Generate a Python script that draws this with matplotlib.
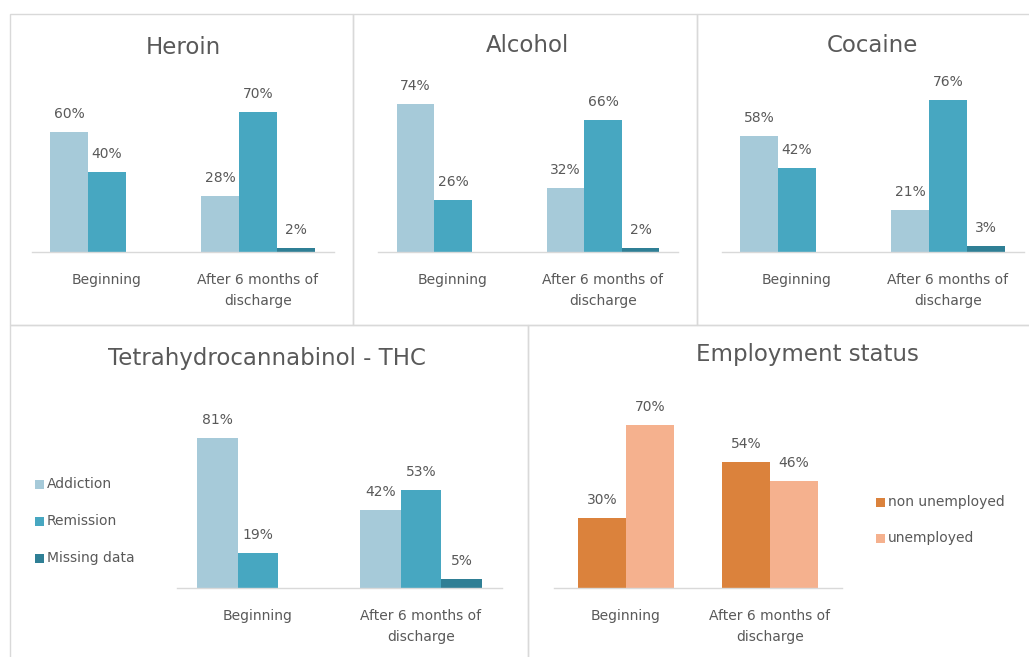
import matplotlib
matplotlib.use("Agg")
import matplotlib.pyplot as plt
from matplotlib.patches import Rectangle
import numpy as np

plt.rcParams['font.family'] = ['DejaVu Sans']

categories = ["Beginning", "After 6 months of\ndischarge"]
drug_series = ["Addiction", "Remission", "Missing data"]

heroin_addiction = [60, 28]
heroin_remission = [40, 70]
heroin_missing = [0, 2]

alcohol_addiction = [74, 32]
alcohol_remission = [26, 66]
alcohol_missing = [0, 2]

cocaine_addiction = [58, 21]
cocaine_remission = [42, 76]
cocaine_missing = [0, 3]

thc_addiction = [81, 42]
thc_remission = [19, 53]
thc_missing = [0, 5]

employment_series = ["non unemployed", "unemployed"]
employment_non_unemployed = [30, 54]
employment_unemployed = [70, 46]

W, H = 1029, 657
fig = plt.figure(figsize=(W / 100, H / 100), dpi=100)
fig.patch.set_facecolor("white")

TEXT = "#595959"
BLUE_COLORS = ["#A6CAD9", "#47A7C1", "#2F7F95"]
ORANGE_COLORS = ["#DB823C", "#F5B18E"]


def px_axes(left, top, width, height):
    return fig.add_axes([left / W, 1 - (top + height) / H, width / W, height / H])


# panel borders
panels = [(10, 14, 343, 311), (353, 14, 344, 311), (697, 14, 340, 311),
          (10, 325, 518, 340), (528, 325, 510, 340)]
for (x, y, w, h) in panels:
    fig.add_artist(Rectangle((x / W, 1 - (y + h) / H), w / W, h / H,
                             transform=fig.transFigure, fill=False,
                             edgecolor="#D9D9D9", linewidth=1.0))


def bar_panel(ax, series_values, colors, width, ymax):
    n = len(series_values)
    x = np.arange(len(categories))
    for i, (vals, c) in enumerate(zip(series_values, colors)):
        off = (i - (n - 1) / 2) * width
        for xi, v in zip(x, vals):
            if v == 0:
                continue
            ax.bar(xi + off, v, width=width, color=c, linewidth=0)
            ax.annotate(f"{v}%", (xi + off, v), xytext=(0, 8),
                        textcoords="offset points", ha="center", va="bottom",
                        fontsize=10, color=TEXT)
    ax.set_xlim(-0.5, 1.5)
    ax.set_ylim(0, ymax)
    ax.set_xticks(x)
    ax.set_xticklabels(categories, fontsize=10, color=TEXT, linespacing=1.65)
    ax.tick_params(axis="x", length=0, pad=15)
    ax.set_yticks([])
    for s in ["top", "left", "right"]:
        ax.spines[s].set_visible(False)
    ax.spines["bottom"].set_color("#D9D9D9")
    ax.spines["bottom"].set_linewidth(1.0)
    ax.patch.set_alpha(0)


# top row
ax1 = px_axes(31.5, 52, 302, 200)
bar_panel(ax1, [heroin_addiction, heroin_remission, heroin_missing], BLUE_COLORS, 0.25, 100)
ax2 = px_axes(378, 52, 300, 200)
bar_panel(ax2, [alcohol_addiction, alcohol_remission, alcohol_missing], BLUE_COLORS, 0.25, 100)
ax3 = px_axes(721.5, 52, 302, 200)
bar_panel(ax3, [cocaine_addiction, cocaine_remission, cocaine_missing], BLUE_COLORS, 0.25, 100)

TITLE_FS = 16.5
fig.text(183 / W, 1 - 47 / H, "Heroin", ha="center", va="center", fontsize=TITLE_FS, color=TEXT)
fig.text(527 / W, 1 - 46 / H, "Alcohol", ha="center", va="center", fontsize=TITLE_FS, color=TEXT)
fig.text(872 / W, 1 - 46 / H, "Cocaine", ha="center", va="center", fontsize=TITLE_FS, color=TEXT)

# THC
ax4 = px_axes(176.5, 588 - 185, 326, 185)
bar_panel(ax4, [thc_addiction, thc_remission, thc_missing], BLUE_COLORS, 0.25, 100)
fig.text(267 / W, 1 - 358 / H, "Tetrahydrocannabinol - THC", ha="center", va="center",
         fontsize=TITLE_FS, color=TEXT)

# Employment
ax5 = px_axes(554, 588 - 186, 288, 186)
bar_panel(ax5, [employment_non_unemployed, employment_unemployed], ORANGE_COLORS, 1 / 3, 80)
fig.text(807 / W, 1 - 354 / H, "Employment status", ha="center", va="center",
         fontsize=TITLE_FS, color=TEXT)

# legends
for i, (name, c) in enumerate(zip(drug_series, BLUE_COLORS)):
    y = 484 + i * 37
    fig.add_artist(Rectangle((35 / W, 1 - (y + 4.5) / H), 9 / W, 9 / H,
                             transform=fig.transFigure, color=c, linewidth=0))
    fig.text(47 / W, 1 - y / H, name, ha="left", va="center", fontsize=10, color=TEXT)

for i, (name, c) in enumerate(zip(employment_series, ORANGE_COLORS)):
    y = 502 + i * 36
    fig.add_artist(Rectangle((876 / W, 1 - (y + 4.5) / H), 9 / W, 9 / H,
                             transform=fig.transFigure, color=c, linewidth=0))
    fig.text(888 / W, 1 - y / H, name, ha="left", va="center", fontsize=10, color=TEXT)

fig.savefig("out.png", dpi=100, facecolor="white")
